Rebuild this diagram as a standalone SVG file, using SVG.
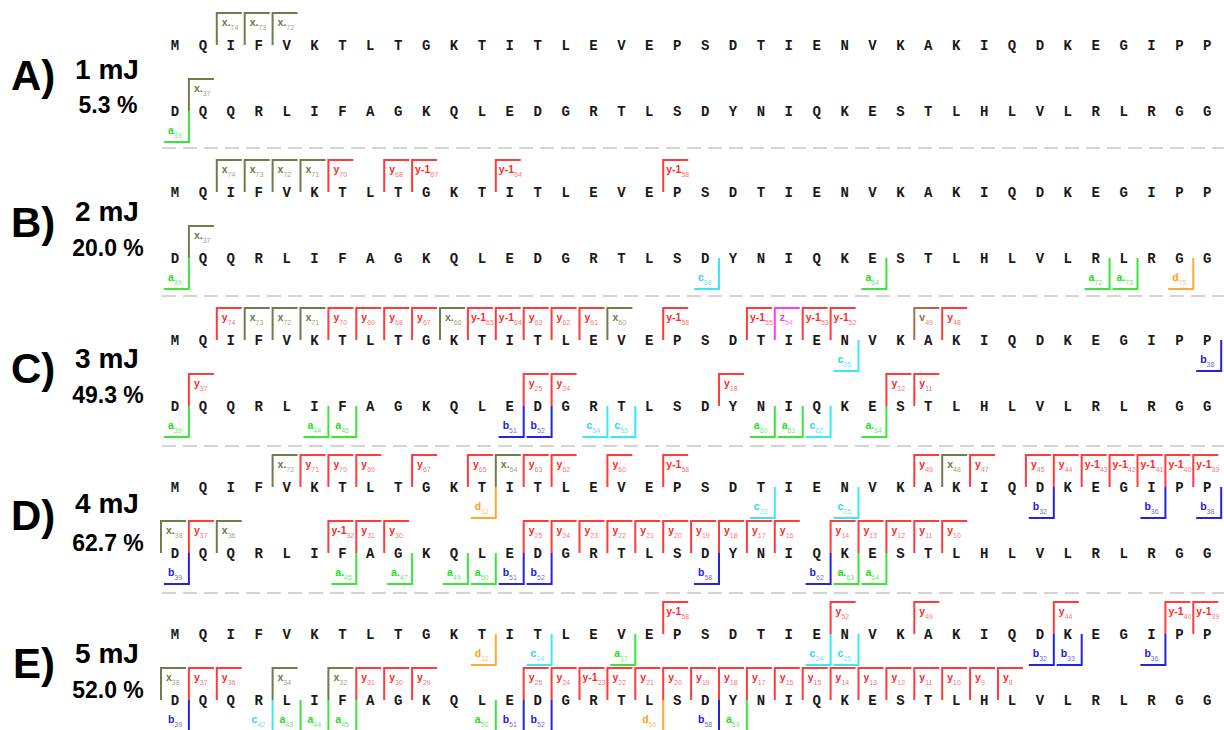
<svg xmlns="http://www.w3.org/2000/svg" xmlns:xlink="http://www.w3.org/1999/xlink" width="1224" height="730" viewBox="0 0 1224 730">
<style>
.seq{font:bold 14px "Liberation Mono",monospace;fill:#1a1a1a;text-anchor:middle}
.lb{font:bold 10.5px "Liberation Sans",Arial,sans-serif}
.s{font-size:7px;font-weight:normal;fill-opacity:.7}
use.y,use.x,use.a,use.b,use.c,use.d,use.z,use.v{fill:none;stroke-width:2}
use.y{stroke:#ff3b3b}text.y{fill:#ff2a2a}
use.x{stroke:#6e7d4c}text.x{fill:#6a7a46}
use.a{stroke:#3ae63a}text.a{fill:#22dd22}
use.b{stroke:#2424dd}text.b{fill:#1a1ae0}
use.c{stroke:#3ae8f5}text.c{fill:#22d8f0}
use.d{stroke:#ffaa33}text.d{fill:#ff9f22}
use.z{stroke:#ff3cf0}text.z{fill:#ff33ee}
use.v{stroke:#a8704a}text.v{fill:#a0683e}
.big{font:bold 42px "Liberation Sans",Arial,sans-serif;fill:#000}
.mj{font:bold 28px "Liberation Sans",Arial,sans-serif;fill:#000;text-anchor:middle}
.pc{font:bold 23px "Liberation Sans",Arial,sans-serif;fill:#000;text-anchor:middle}
.sep{stroke:#d4d4d4;stroke-width:2;stroke-dasharray:14 7}
</style>
<defs>
<path id="T" d="M0,0V-32H25" fill="none"/>
<path id="B" d="M0,0V31H-25" fill="none"/>
<text id="s1" class="seq" y="5" x="175 202.9 230.8 258.7 286.6 314.5 342.4 370.3 398.2 426.1 454 481.9 509.8 537.7 565.6 593.5 621.4 649.3 677.2 705.1 733 760.9 788.8 816.7 844.6 872.5 900.4 928.3 956.2 984.1 1012 1039.9 1067.8 1095.7 1123.6 1151.5 1179.4 1207.3">MQIFVKTLTGKTITLEVEPSDTIENVKAKIQDKEGIPP</text>
<text id="s2" class="seq" y="5" x="175 202.9 230.8 258.7 286.6 314.5 342.4 370.3 398.2 426.1 454 481.9 509.8 537.7 565.6 593.5 621.4 649.3 677.2 705.1 733 760.9 788.8 816.7 844.6 872.5 900.4 928.3 956.2 984.1 1012 1039.9 1067.8 1095.7 1123.6 1151.5 1179.4 1207.3">DQQRLIFAGKQLEDGRTLSDYNIQKESTLHLVLRLRGG</text>
</defs>

<g id="separators">
<line class="sep" x1="162" y1="148" x2="1224" y2="148"/>
<line class="sep" x1="162" y1="296" x2="1224" y2="296"/>
<line class="sep" x1="162" y1="446" x2="1224" y2="446"/>
<line class="sep" x1="162" y1="593" x2="1224" y2="593"/>
</g>

<g id="panelA">
<text class="big" x="11" y="90">A)</text>
<text class="mj" x="107" y="79">1 mJ</text>
<text class="pc" x="108" y="113">5.3 %</text>
<g transform="translate(0,45)">
<use href="#s1"/>
<use href="#T" x="216.8" class="x"/><text class="lb x" x="221.8" y="-19">x.<tspan class="s" dy="3.5">74</tspan></text>
<use href="#T" x="244.7" class="x"/><text class="lb x" x="249.7" y="-19">x.<tspan class="s" dy="3.5">73</tspan></text>
<use href="#T" x="272.6" class="x"/><text class="lb x" x="277.6" y="-19">x.<tspan class="s" dy="3.5">72</tspan></text>
</g>
<g transform="translate(0,111)">
<use href="#s2"/>
<use href="#T" x="188.9" class="x"/><text class="lb x" x="193.9" y="-19">x.<tspan class="s" dy="3.5">37</tspan></text>
<use href="#B" x="188.9" class="a"/><text class="lb a" x="167.9" y="23">a<tspan class="s" dy="3.5">39</tspan></text>
</g>
</g>

<g id="panelB">
<text class="big" x="11" y="237">B)</text>
<text class="mj" x="107" y="221">2 mJ</text>
<text class="pc" x="108" y="256">20.0 %</text>
<g transform="translate(0,192)">
<use href="#s1"/>
<use href="#T" x="216.8" class="x"/><text class="lb x" x="221.8" y="-19">x<tspan class="s" dy="3.5">74</tspan></text>
<use href="#T" x="244.7" class="x"/><text class="lb x" x="249.7" y="-19">x<tspan class="s" dy="3.5">73</tspan></text>
<use href="#T" x="272.6" class="x"/><text class="lb x" x="277.6" y="-19">x<tspan class="s" dy="3.5">72</tspan></text>
<use href="#T" x="300.5" class="x"/><text class="lb x" x="305.5" y="-19">x<tspan class="s" dy="3.5">71</tspan></text>
<use href="#T" x="328.4" class="y"/><text class="lb y" x="333.4" y="-19">y<tspan class="s" dy="3.5">70</tspan></text>
<use href="#T" x="384.2" class="y"/><text class="lb y" x="389.2" y="-19">y<tspan class="s" dy="3.5">68</tspan></text>
<use href="#T" x="412.1" class="y"/><text class="lb y" x="415.1" y="-19">y-1<tspan class="s" dy="3.5">67</tspan></text>
<use href="#T" x="495.8" class="y"/><text class="lb y" x="498.8" y="-19">y-1<tspan class="s" dy="3.5">64</tspan></text>
<use href="#T" x="663.2" class="y"/><text class="lb y" x="666.2" y="-19">y-1<tspan class="s" dy="3.5">58</tspan></text>
</g>
<g transform="translate(0,258)">
<use href="#s2"/>
<use href="#T" x="188.9" class="x"/><text class="lb x" x="193.9" y="-19">x.<tspan class="s" dy="3.5">37</tspan></text>
<use href="#B" x="188.9" class="a"/><text class="lb a" x="167.9" y="23">a<tspan class="s" dy="3.5">39</tspan></text>
<use href="#B" x="719" class="c"/><text class="lb c" x="698" y="23">c<tspan class="s" dy="3.5">58</tspan></text>
<use href="#B" x="886.4" class="a"/><text class="lb a" x="865.4" y="23">a<tspan class="s" dy="3.5">64</tspan></text>
<use href="#B" x="1109.6" class="a"/><text class="lb a" x="1088.6" y="23">a<tspan class="s" dy="3.5">72</tspan></text>
<use href="#B" x="1137.5" class="a"/><text class="lb a" x="1116.5" y="23">a.<tspan class="s" dy="3.5">73</tspan></text>
<use href="#B" x="1193.3" class="d"/><text class="lb d" x="1172.3" y="23">d<tspan class="s" dy="3.5">75</tspan></text>
</g>
</g>

<g id="panelC">
<text class="big" x="11" y="383">C)</text>
<text class="mj" x="107" y="368">3 mJ</text>
<text class="pc" x="108" y="403">49.3 %</text>
<g transform="translate(0,340)">
<use href="#s1"/>
<use href="#T" x="216.8" class="y"/><text class="lb y" x="221.8" y="-19">y<tspan class="s" dy="3.5">74</tspan></text>
<use href="#T" x="244.7" class="x"/><text class="lb x" x="249.7" y="-19">x<tspan class="s" dy="3.5">73</tspan></text>
<use href="#T" x="272.6" class="x"/><text class="lb x" x="277.6" y="-19">x<tspan class="s" dy="3.5">72</tspan></text>
<use href="#T" x="300.5" class="x"/><text class="lb x" x="305.5" y="-19">x<tspan class="s" dy="3.5">71</tspan></text>
<use href="#T" x="328.4" class="y"/><text class="lb y" x="333.4" y="-19">y<tspan class="s" dy="3.5">70</tspan></text>
<use href="#T" x="356.3" class="y"/><text class="lb y" x="361.3" y="-19">y<tspan class="s" dy="3.5">69</tspan></text>
<use href="#T" x="384.2" class="y"/><text class="lb y" x="389.2" y="-19">y<tspan class="s" dy="3.5">68</tspan></text>
<use href="#T" x="412.1" class="y"/><text class="lb y" x="417.1" y="-19">y<tspan class="s" dy="3.5">67</tspan></text>
<use href="#T" x="440" class="x"/><text class="lb x" x="445" y="-19">x.<tspan class="s" dy="3.5">66</tspan></text>
<use href="#T" x="467.9" class="y"/><text class="lb y" x="470.9" y="-19">y-1<tspan class="s" dy="3.5">65</tspan></text>
<use href="#T" x="495.8" class="y"/><text class="lb y" x="498.8" y="-19">y-1<tspan class="s" dy="3.5">64</tspan></text>
<use href="#T" x="523.7" class="y"/><text class="lb y" x="528.7" y="-19">y<tspan class="s" dy="3.5">63</tspan></text>
<use href="#T" x="551.6" class="y"/><text class="lb y" x="556.6" y="-19">y<tspan class="s" dy="3.5">62</tspan></text>
<use href="#T" x="579.5" class="y"/><text class="lb y" x="584.5" y="-19">y<tspan class="s" dy="3.5">61</tspan></text>
<use href="#T" x="607.4" class="x"/><text class="lb x" x="612.4" y="-19">x<tspan class="s" dy="3.5">60</tspan></text>
<use href="#T" x="663.2" class="y"/><text class="lb y" x="666.2" y="-19">y-1<tspan class="s" dy="3.5">58</tspan></text>
<use href="#T" x="746.9" class="y"/><text class="lb y" x="749.9" y="-19">y-1<tspan class="s" dy="3.5">55</tspan></text>
<use href="#T" x="774.8" class="z"/><text class="lb z" x="779.8" y="-19">z<tspan class="s" dy="3.5">54</tspan></text>
<use href="#T" x="802.7" class="y"/><text class="lb y" x="805.7" y="-19">y-1<tspan class="s" dy="3.5">53</tspan></text>
<use href="#T" x="830.6" class="y"/><text class="lb y" x="833.6" y="-19">y-1<tspan class="s" dy="3.5">52</tspan></text>
<use href="#T" x="914.3" class="v"/><text class="lb v" x="919.3" y="-19">v<tspan class="s" dy="3.5">49</tspan></text>
<use href="#T" x="942.2" class="y"/><text class="lb y" x="947.2" y="-19">y<tspan class="s" dy="3.5">48</tspan></text>
<use href="#B" x="858.5" class="c"/><text class="lb c" x="837.5" y="23">c<tspan class="s" dy="3.5">25</tspan></text>
<use href="#B" x="1221.2" class="b"/><text class="lb b" x="1200.2" y="23">b<tspan class="s" dy="3.5">38</tspan></text>
</g>
<g transform="translate(0,406)">
<use href="#s2"/>
<use href="#T" x="188.9" class="y"/><text class="lb y" x="193.9" y="-19">y<tspan class="s" dy="3.5">37</tspan></text>
<use href="#T" x="523.7" class="y"/><text class="lb y" x="528.7" y="-19">y<tspan class="s" dy="3.5">25</tspan></text>
<use href="#T" x="551.6" class="y"/><text class="lb y" x="556.6" y="-19">y<tspan class="s" dy="3.5">24</tspan></text>
<use href="#T" x="719" class="y"/><text class="lb y" x="724" y="-19">y<tspan class="s" dy="3.5">18</tspan></text>
<use href="#T" x="886.4" class="y"/><text class="lb y" x="891.4" y="-19">y<tspan class="s" dy="3.5">12</tspan></text>
<use href="#T" x="914.3" class="y"/><text class="lb y" x="919.3" y="-19">y<tspan class="s" dy="3.5">11</tspan></text>
<use href="#B" x="188.9" class="a"/><text class="lb a" x="167.9" y="23">a<tspan class="s" dy="3.5">39</tspan></text>
<use href="#B" x="328.4" class="a"/><text class="lb a" x="307.4" y="23">a<tspan class="s" dy="3.5">44</tspan></text>
<use href="#B" x="356.3" class="a"/><text class="lb a" x="335.3" y="23">a<tspan class="s" dy="3.5">45</tspan></text>
<use href="#B" x="523.7" class="b"/><text class="lb b" x="502.7" y="23">b<tspan class="s" dy="3.5">51</tspan></text>
<use href="#B" x="551.6" class="b"/><text class="lb b" x="530.6" y="23">b<tspan class="s" dy="3.5">52</tspan></text>
<use href="#B" x="607.4" class="c"/><text class="lb c" x="586.4" y="23">c<tspan class="s" dy="3.5">54</tspan></text>
<use href="#B" x="635.3" class="c"/><text class="lb c" x="614.3" y="23">c<tspan class="s" dy="3.5">55</tspan></text>
<use href="#B" x="774.8" class="a"/><text class="lb a" x="753.8" y="23">a<tspan class="s" dy="3.5">60</tspan></text>
<use href="#B" x="802.7" class="a"/><text class="lb a" x="781.7" y="23">a<tspan class="s" dy="3.5">61</tspan></text>
<use href="#B" x="830.6" class="c"/><text class="lb c" x="809.6" y="23">c<tspan class="s" dy="3.5">62</tspan></text>
<use href="#B" x="886.4" class="a"/><text class="lb a" x="865.4" y="23">a.<tspan class="s" dy="3.5">64</tspan></text>
</g>
</g>

<g id="panelD">
<text class="big" x="11" y="530">D)</text>
<text class="mj" x="107" y="513">4 mJ</text>
<text class="pc" x="108" y="551">62.7 %</text>
<g transform="translate(0,487)">
<use href="#s1"/>
<use href="#T" x="272.6" class="x"/><text class="lb x" x="277.6" y="-19">x.<tspan class="s" dy="3.5">72</tspan></text>
<use href="#T" x="300.5" class="y"/><text class="lb y" x="305.5" y="-19">y<tspan class="s" dy="3.5">71</tspan></text>
<use href="#T" x="328.4" class="y"/><text class="lb y" x="333.4" y="-19">y<tspan class="s" dy="3.5">70</tspan></text>
<use href="#T" x="356.3" class="y"/><text class="lb y" x="361.3" y="-19">y<tspan class="s" dy="3.5">69</tspan></text>
<use href="#T" x="412.1" class="y"/><text class="lb y" x="417.1" y="-19">y<tspan class="s" dy="3.5">67</tspan></text>
<use href="#T" x="467.9" class="y"/><text class="lb y" x="472.9" y="-19">y<tspan class="s" dy="3.5">65</tspan></text>
<use href="#T" x="495.8" class="x"/><text class="lb x" x="500.8" y="-19">x.<tspan class="s" dy="3.5">64</tspan></text>
<use href="#T" x="523.7" class="y"/><text class="lb y" x="528.7" y="-19">y<tspan class="s" dy="3.5">63</tspan></text>
<use href="#T" x="551.6" class="y"/><text class="lb y" x="556.6" y="-19">y<tspan class="s" dy="3.5">62</tspan></text>
<use href="#T" x="607.4" class="y"/><text class="lb y" x="612.4" y="-19">y<tspan class="s" dy="3.5">60</tspan></text>
<use href="#T" x="663.2" class="y"/><text class="lb y" x="666.2" y="-19">y-1<tspan class="s" dy="3.5">58</tspan></text>
<use href="#T" x="914.3" class="y"/><text class="lb y" x="919.3" y="-19">y<tspan class="s" dy="3.5">49</tspan></text>
<use href="#T" x="942.2" class="x"/><text class="lb x" x="947.2" y="-19">x<tspan class="s" dy="3.5">48</tspan></text>
<use href="#T" x="970.1" class="y"/><text class="lb y" x="975.1" y="-19">y<tspan class="s" dy="3.5">47</tspan></text>
<use href="#T" x="1025.9" class="y"/><text class="lb y" x="1030.9" y="-19">y<tspan class="s" dy="3.5">45</tspan></text>
<use href="#T" x="1053.8" class="y"/><text class="lb y" x="1058.8" y="-19">y<tspan class="s" dy="3.5">44</tspan></text>
<use href="#T" x="1081.7" class="y"/><text class="lb y" x="1084.7" y="-19">y-1<tspan class="s" dy="3.5">43</tspan></text>
<use href="#T" x="1109.6" class="y"/><text class="lb y" x="1112.6" y="-19">y-1<tspan class="s" dy="3.5">42</tspan></text>
<use href="#T" x="1137.5" class="y"/><text class="lb y" x="1140.5" y="-19">y-1<tspan class="s" dy="3.5">41</tspan></text>
<use href="#T" x="1165.4" class="y"/><text class="lb y" x="1168.4" y="-19">y-1<tspan class="s" dy="3.5">40</tspan></text>
<use href="#T" x="1193.3" class="y"/><text class="lb y" x="1196.3" y="-19">y-1<tspan class="s" dy="3.5">39</tspan></text>
<use href="#B" x="495.8" class="d"/><text class="lb d" x="474.8" y="23">d<tspan class="s" dy="3.5">12</tspan></text>
<use href="#B" x="774.8" class="c"/><text class="lb c" x="753.8" y="23">c<tspan class="s" dy="3.5">22</tspan></text>
<use href="#B" x="858.5" class="c"/><text class="lb c" x="837.5" y="23">c<tspan class="s" dy="3.5">25</tspan></text>
<use href="#B" x="1053.8" class="b"/><text class="lb b" x="1032.8" y="23">b<tspan class="s" dy="3.5">32</tspan></text>
<use href="#B" x="1165.4" class="b"/><text class="lb b" x="1144.4" y="23">b<tspan class="s" dy="3.5">36</tspan></text>
<use href="#B" x="1221.2" class="b"/><text class="lb b" x="1200.2" y="23">b<tspan class="s" dy="3.5">38</tspan></text>
</g>
<g transform="translate(0,553)">
<use href="#s2"/>
<use href="#T" x="161" class="x"/><text class="lb x" x="166" y="-19">x.<tspan class="s" dy="3.5">38</tspan></text>
<use href="#T" x="188.9" class="y"/><text class="lb y" x="193.9" y="-19">y<tspan class="s" dy="3.5">37</tspan></text>
<use href="#T" x="216.8" class="x"/><text class="lb x" x="221.8" y="-19">x<tspan class="s" dy="3.5">36</tspan></text>
<use href="#T" x="328.4" class="y"/><text class="lb y" x="331.4" y="-19">y-1<tspan class="s" dy="3.5">32</tspan></text>
<use href="#T" x="356.3" class="y"/><text class="lb y" x="361.3" y="-19">y<tspan class="s" dy="3.5">31</tspan></text>
<use href="#T" x="384.2" class="y"/><text class="lb y" x="389.2" y="-19">y<tspan class="s" dy="3.5">30</tspan></text>
<use href="#T" x="523.7" class="y"/><text class="lb y" x="528.7" y="-19">y<tspan class="s" dy="3.5">25</tspan></text>
<use href="#T" x="551.6" class="y"/><text class="lb y" x="556.6" y="-19">y<tspan class="s" dy="3.5">24</tspan></text>
<use href="#T" x="579.5" class="y"/><text class="lb y" x="584.5" y="-19">y<tspan class="s" dy="3.5">23</tspan></text>
<use href="#T" x="607.4" class="y"/><text class="lb y" x="612.4" y="-19">y<tspan class="s" dy="3.5">22</tspan></text>
<use href="#T" x="635.3" class="y"/><text class="lb y" x="640.3" y="-19">y<tspan class="s" dy="3.5">21</tspan></text>
<use href="#T" x="663.2" class="y"/><text class="lb y" x="668.2" y="-19">y<tspan class="s" dy="3.5">20</tspan></text>
<use href="#T" x="691.1" class="y"/><text class="lb y" x="696.1" y="-19">y<tspan class="s" dy="3.5">19</tspan></text>
<use href="#T" x="719" class="y"/><text class="lb y" x="724" y="-19">y<tspan class="s" dy="3.5">18</tspan></text>
<use href="#T" x="746.9" class="y"/><text class="lb y" x="751.9" y="-19">y<tspan class="s" dy="3.5">17</tspan></text>
<use href="#T" x="774.8" class="y"/><text class="lb y" x="779.8" y="-19">y<tspan class="s" dy="3.5">16</tspan></text>
<use href="#T" x="830.6" class="y"/><text class="lb y" x="835.6" y="-19">y<tspan class="s" dy="3.5">14</tspan></text>
<use href="#T" x="858.5" class="y"/><text class="lb y" x="863.5" y="-19">y<tspan class="s" dy="3.5">13</tspan></text>
<use href="#T" x="886.4" class="y"/><text class="lb y" x="891.4" y="-19">y<tspan class="s" dy="3.5">12</tspan></text>
<use href="#T" x="914.3" class="y"/><text class="lb y" x="919.3" y="-19">y<tspan class="s" dy="3.5">11</tspan></text>
<use href="#T" x="942.2" class="y"/><text class="lb y" x="947.2" y="-19">y<tspan class="s" dy="3.5">10</tspan></text>
<use href="#B" x="188.9" class="b"/><text class="lb b" x="167.9" y="23">b<tspan class="s" dy="3.5">39</tspan></text>
<use href="#B" x="356.3" class="a"/><text class="lb a" x="335.3" y="23">a.<tspan class="s" dy="3.5">45</tspan></text>
<use href="#B" x="412.1" class="a"/><text class="lb a" x="391.1" y="23">a.<tspan class="s" dy="3.5">47</tspan></text>
<use href="#B" x="467.9" class="a"/><text class="lb a" x="446.9" y="23">a<tspan class="s" dy="3.5">49</tspan></text>
<use href="#B" x="495.8" class="a"/><text class="lb a" x="474.8" y="23">a<tspan class="s" dy="3.5">50</tspan></text>
<use href="#B" x="523.7" class="b"/><text class="lb b" x="502.7" y="23">b<tspan class="s" dy="3.5">51</tspan></text>
<use href="#B" x="551.6" class="b"/><text class="lb b" x="530.6" y="23">b<tspan class="s" dy="3.5">52</tspan></text>
<use href="#B" x="719" class="b"/><text class="lb b" x="698" y="23">b<tspan class="s" dy="3.5">58</tspan></text>
<use href="#B" x="830.6" class="b"/><text class="lb b" x="809.6" y="23">b<tspan class="s" dy="3.5">62</tspan></text>
<use href="#B" x="858.5" class="a"/><text class="lb a" x="837.5" y="23">a.<tspan class="s" dy="3.5">63</tspan></text>
<use href="#B" x="886.4" class="a"/><text class="lb a" x="865.4" y="23">a<tspan class="s" dy="3.5">64</tspan></text>
</g>
</g>

<g id="panelE">
<text class="big" x="13" y="678">E)</text>
<text class="mj" x="107" y="663">5 mJ</text>
<text class="pc" x="108" y="698">52.0 %</text>
<g transform="translate(0,634)">
<use href="#s1"/>
<use href="#T" x="663.2" class="y"/><text class="lb y" x="666.2" y="-19">y-1<tspan class="s" dy="3.5">58</tspan></text>
<use href="#T" x="830.6" class="y"/><text class="lb y" x="835.6" y="-19">y<tspan class="s" dy="3.5">52</tspan></text>
<use href="#T" x="914.3" class="y"/><text class="lb y" x="919.3" y="-19">y<tspan class="s" dy="3.5">49</tspan></text>
<use href="#T" x="1053.8" class="y"/><text class="lb y" x="1058.8" y="-19">y<tspan class="s" dy="3.5">44</tspan></text>
<use href="#T" x="1165.4" class="y"/><text class="lb y" x="1168.4" y="-19">y-1<tspan class="s" dy="3.5">40</tspan></text>
<use href="#T" x="1193.3" class="y"/><text class="lb y" x="1196.3" y="-19">y-1<tspan class="s" dy="3.5">39</tspan></text>
<use href="#B" x="495.8" class="d"/><text class="lb d" x="474.8" y="23">d<tspan class="s" dy="3.5">12</tspan></text>
<use href="#B" x="551.6" class="c"/><text class="lb c" x="530.6" y="23">c<tspan class="s" dy="3.5">14</tspan></text>
<use href="#B" x="635.3" class="a"/><text class="lb a" x="614.3" y="23">a<tspan class="s" dy="3.5">17</tspan></text>
<use href="#B" x="830.6" class="c"/><text class="lb c" x="809.6" y="23">c<tspan class="s" dy="3.5">24</tspan></text>
<use href="#B" x="858.5" class="c"/><text class="lb c" x="837.5" y="23">c<tspan class="s" dy="3.5">25</tspan></text>
<use href="#B" x="1053.8" class="b"/><text class="lb b" x="1032.8" y="23">b<tspan class="s" dy="3.5">32</tspan></text>
<use href="#B" x="1081.7" class="b"/><text class="lb b" x="1060.7" y="23">b<tspan class="s" dy="3.5">33</tspan></text>
<use href="#B" x="1165.4" class="b"/><text class="lb b" x="1144.4" y="23">b<tspan class="s" dy="3.5">36</tspan></text>
</g>
<g transform="translate(0,700)">
<use href="#s2"/>
<use href="#T" x="161" class="x"/><text class="lb x" x="166" y="-19">x<tspan class="s" dy="3.5">38</tspan></text>
<use href="#T" x="188.9" class="y"/><text class="lb y" x="193.9" y="-19">y<tspan class="s" dy="3.5">37</tspan></text>
<use href="#T" x="216.8" class="y"/><text class="lb y" x="221.8" y="-19">y<tspan class="s" dy="3.5">36</tspan></text>
<use href="#T" x="272.6" class="x"/><text class="lb x" x="277.6" y="-19">x<tspan class="s" dy="3.5">34</tspan></text>
<use href="#T" x="328.4" class="x"/><text class="lb x" x="333.4" y="-19">x<tspan class="s" dy="3.5">32</tspan></text>
<use href="#T" x="356.3" class="y"/><text class="lb y" x="361.3" y="-19">y<tspan class="s" dy="3.5">31</tspan></text>
<use href="#T" x="384.2" class="y"/><text class="lb y" x="389.2" y="-19">y<tspan class="s" dy="3.5">30</tspan></text>
<use href="#T" x="412.1" class="y"/><text class="lb y" x="417.1" y="-19">y<tspan class="s" dy="3.5">29</tspan></text>
<use href="#T" x="523.7" class="y"/><text class="lb y" x="528.7" y="-19">y<tspan class="s" dy="3.5">25</tspan></text>
<use href="#T" x="551.6" class="y"/><text class="lb y" x="556.6" y="-19">y<tspan class="s" dy="3.5">24</tspan></text>
<use href="#T" x="579.5" class="y"/><text class="lb y" x="582.5" y="-19">y-1<tspan class="s" dy="3.5">23</tspan></text>
<use href="#T" x="607.4" class="y"/><text class="lb y" x="612.4" y="-19">y<tspan class="s" dy="3.5">22</tspan></text>
<use href="#T" x="635.3" class="y"/><text class="lb y" x="640.3" y="-19">y<tspan class="s" dy="3.5">21</tspan></text>
<use href="#T" x="663.2" class="y"/><text class="lb y" x="668.2" y="-19">y<tspan class="s" dy="3.5">20</tspan></text>
<use href="#T" x="691.1" class="y"/><text class="lb y" x="696.1" y="-19">y<tspan class="s" dy="3.5">19</tspan></text>
<use href="#T" x="719" class="y"/><text class="lb y" x="724" y="-19">y<tspan class="s" dy="3.5">18</tspan></text>
<use href="#T" x="746.9" class="y"/><text class="lb y" x="751.9" y="-19">y<tspan class="s" dy="3.5">17</tspan></text>
<use href="#T" x="774.8" class="y"/><text class="lb y" x="779.8" y="-19">y<tspan class="s" dy="3.5">16</tspan></text>
<use href="#T" x="802.7" class="y"/><text class="lb y" x="807.7" y="-19">y<tspan class="s" dy="3.5">15</tspan></text>
<use href="#T" x="830.6" class="y"/><text class="lb y" x="835.6" y="-19">y<tspan class="s" dy="3.5">14</tspan></text>
<use href="#T" x="858.5" class="y"/><text class="lb y" x="863.5" y="-19">y<tspan class="s" dy="3.5">13</tspan></text>
<use href="#T" x="886.4" class="y"/><text class="lb y" x="891.4" y="-19">y<tspan class="s" dy="3.5">12</tspan></text>
<use href="#T" x="914.3" class="y"/><text class="lb y" x="919.3" y="-19">y<tspan class="s" dy="3.5">11</tspan></text>
<use href="#T" x="942.2" class="y"/><text class="lb y" x="947.2" y="-19">y<tspan class="s" dy="3.5">10</tspan></text>
<use href="#T" x="970.1" class="y"/><text class="lb y" x="975.1" y="-19">y<tspan class="s" dy="3.5">9</tspan></text>
<use href="#T" x="998" class="y"/><text class="lb y" x="1003" y="-19">y<tspan class="s" dy="3.5">8</tspan></text>
<use href="#B" x="188.9" class="b"/><text class="lb b" x="167.9" y="23">b<tspan class="s" dy="3.5">39</tspan></text>
<use href="#B" x="272.6" class="c"/><text class="lb c" x="251.6" y="23">c<tspan class="s" dy="3.5">42</tspan></text>
<use href="#B" x="300.5" class="a"/><text class="lb a" x="279.5" y="23">a<tspan class="s" dy="3.5">43</tspan></text>
<use href="#B" x="328.4" class="a"/><text class="lb a" x="307.4" y="23">a<tspan class="s" dy="3.5">44</tspan></text>
<use href="#B" x="356.3" class="a"/><text class="lb a" x="335.3" y="23">a<tspan class="s" dy="3.5">45</tspan></text>
<use href="#B" x="495.8" class="a"/><text class="lb a" x="474.8" y="23">a<tspan class="s" dy="3.5">50</tspan></text>
<use href="#B" x="523.7" class="b"/><text class="lb b" x="502.7" y="23">b<tspan class="s" dy="3.5">51</tspan></text>
<use href="#B" x="551.6" class="b"/><text class="lb b" x="530.6" y="23">b<tspan class="s" dy="3.5">52</tspan></text>
<use href="#B" x="663.2" class="d"/><text class="lb d" x="642.2" y="23">d<tspan class="s" dy="3.5">56</tspan></text>
<use href="#B" x="719" class="b"/><text class="lb b" x="698" y="23">b<tspan class="s" dy="3.5">58</tspan></text>
<use href="#B" x="746.9" class="a"/><text class="lb a" x="725.9" y="23">a<tspan class="s" dy="3.5">59</tspan></text>
</g>
</g>
</svg>
